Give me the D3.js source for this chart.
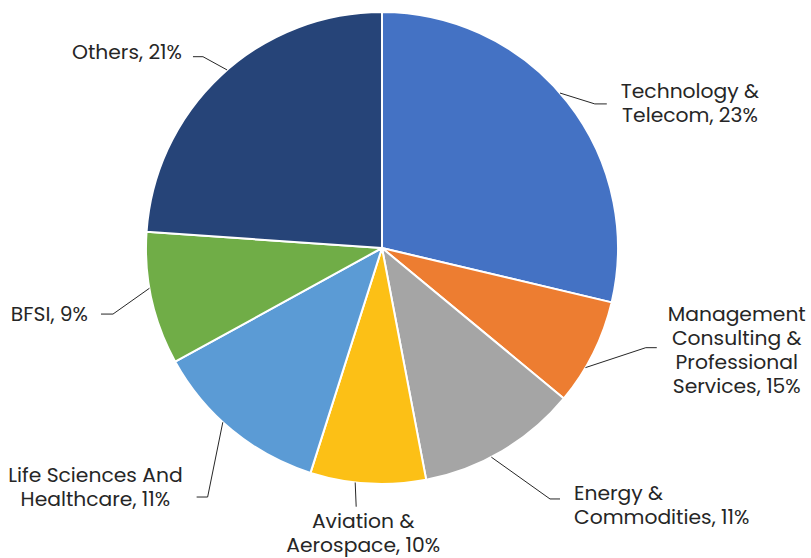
<!DOCTYPE html>
<html>
<head>
<meta charset="utf-8">
<script src="https://cdn.jsdelivr.net/npm/d3@7"></script>
<style>
  html, body { margin: 0; padding: 0; background: #fff; }
  svg { display: block; font-family: Poppins, Inter, sans-serif; }
</style>
</head>
<body>
<div id="chart"></div>
<script>
// slice sizes (labels carry the printed percentages)
const categories = [
  "Technology & Telecom",
  "Management Consulting & Professional Services",
  "Energy & Commodities",
  "Aviation & Aerospace",
  "Life Sciences And Healthcare",
  "BFSI",
  "Others"
];
const values = [28.7, 7.3, 11.0, 7.9, 12.1, 9.1, 23.9];
const labelLines = [
  ["Technology &", "Telecom, 23%"],
  ["Management", "Consulting &", "Professional", "Services, 15%"],
  ["Energy &", "Commodities, 11%"],
  ["Aviation &", "Aerospace, 10%"],
  ["Life Sciences And", "Healthcare, 11%"],
  ["BFSI, 9%"],
  ["Others, 21%"]
];
const colors = ["#4472C4", "#ED7D31", "#A5A5A5", "#FCC016", "#5B9BD5", "#70AD47", "#264478"];

// leader / label placement, polar relative to the pie
const labelLayout = [
  { shift: -2.7, elbow: [55.9, 257], tick: 12, gap: 14, side: "right", align: "middle", dy: -1 },
  { shift: 4, elbow: [110.7, 282], tick: 11, gap: 11, side: "right", align: "middle", dy: 2 },
  { shift: 3, elbow: [146.2, 302], tick: 10, gap: 14, side: "right", align: "start", dy: 6 },
  { shift: 3.1, elbow: [185.7, 260], tick: 0, gap: 14, side: "below", align: "middle", dy: 7 },
  { shift: 3, elbow: [215, 304], tick: -11, gap: 14, side: "left", align: "middle", dy: -10 },
  { shift: 2.6, elbow: [256.2, 277], tick: -12, gap: 13, side: "left", align: "end", dy: 0 },
  { shift: 2, elbow: [316.9, 262], tick: -10, gap: 11, side: "left", align: "end", dy: -5 }
];

const width = 811, height = 558;
const cx = 382, cy = 248, radius = 236;
const lineH = 24;
const fontSize = 20.3;

const svg = d3.select("#chart").append("svg")
  .attr("width", width)
  .attr("height", height);

const g = svg.append("g").attr("transform", `translate(${cx},${cy})`);

const pie = d3.pie().sort(null).value(d => d);
const arcs = pie(values);
const arc = d3.arc().innerRadius(0).outerRadius(radius);

g.selectAll("path.slice")
  .data(arcs)
  .join("path")
  .attr("class", "slice")
  .attr("d", arc)
  .attr("fill", (d, i) => colors[i])
  .attr("stroke", "#fff")
  .attr("stroke-width", 2)
  .attr("stroke-linejoin", "round");

const polar = (deg, r) => {
  const a = deg * Math.PI / 180;
  return [r * Math.sin(a), -r * Math.cos(a)];
};

arcs.forEach((d, i) => {
  const L = labelLayout[i];
  const mid = (d.startAngle + d.endAngle) / 2 * 180 / Math.PI;
  const p0 = polar(mid + L.shift, radius);
  const p1 = polar(L.elbow[0], L.elbow[1]);
  const p2 = [p1[0] + L.tick, p1[1]];

  g.append("polyline")
    .attr("points", [p0, p1, p2].map(p => p.join(",")).join(" "))
    .attr("fill", "none")
    .attr("stroke", "#262626")
    .attr("stroke-width", 1);

  const lines = labelLines[i];
  const text = g.append("text")
    .attr("font-size", fontSize)
    .attr("fill", "#262626");
  const spans = lines.map(t => text.append("tspan").text(t));
  const widths = spans.map(s => s.node().getComputedTextLength());
  const maxW = d3.max(widths);

  let left, top;
  if (L.side === "right") {
    left = p2[0] + L.gap;
    top = p2[1] + L.dy - lines.length * lineH / 2;
  } else if (L.side === "left") {
    left = p2[0] - L.gap - maxW;
    top = p2[1] + L.dy - lines.length * lineH / 2;
  } else {
    left = p2[0] + L.dy - maxW / 2;
    top = p2[1] + 2;
  }

  spans.forEach((s, k) => {
    let x = left;
    if (L.align === "middle") x = left + (maxW - widths[k]) / 2;
    if (L.align === "end") x = left + maxW - widths[k];
    s.attr("x", x)
      .attr("y", top + k * lineH + lineH / 2 + fontSize * 0.35);
  });
});
</script>
</body>
</html>
